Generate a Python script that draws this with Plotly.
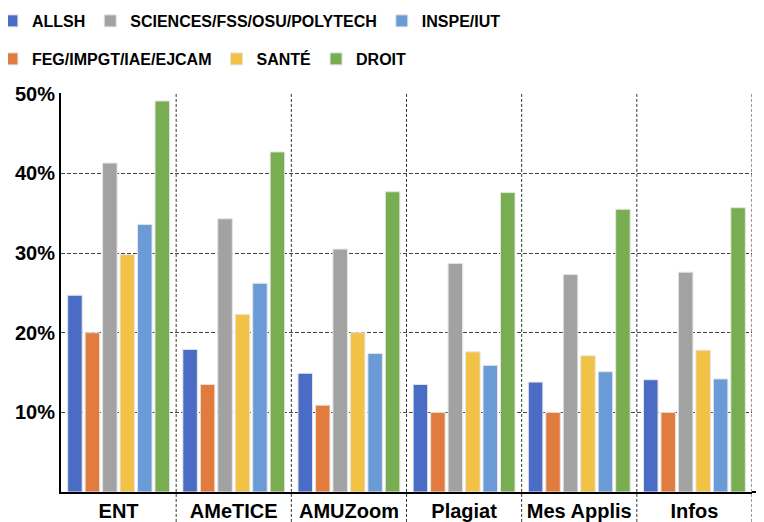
import plotly.graph_objects as go

categories = ["ENT", "AMeTICE", "AMUZoom", "Plagiat", "Mes Applis", "Infos"]

allsh = [24.7, 17.9, 14.9, 13.5, 13.8, 14.1]
feg = [20.0, 13.5, 10.9, 10.0, 10.0, 10.0]
sciences = [41.3, 34.3, 30.5, 28.7, 27.3, 27.6]
sante = [29.8, 22.3, 20.0, 17.6, 17.1, 17.8]
inspe = [33.6, 26.2, 17.4, 15.9, 15.1, 14.2]
droit = [49.1, 42.7, 37.7, 37.6, 35.5, 35.7]

y_tick_vals = [10, 20, 30, 40, 50]
y_tick_text = ["10%", "20%", "30%", "40%", "50%"]

series = [
    ("ALLSH", allsh, "#4a6cc4", "legend"),
    ("FEG/IMPGT/IAE/EJCAM", feg, "#e27c3e", "legend2"),
    ("SCIENCES/FSS/OSU/POLYTECH", sciences, "#a2a2a2", "legend"),
    ("SANTÉ", sante, "#f2c246", "legend2"),
    ("INSPE/IUT", inspe, "#6b9bd6", "legend"),
    ("DROIT", droit, "#79ad52", "legend2"),
]

fig = go.Figure()
for name, vals, color, leg in series:
    fig.add_trace(go.Bar(
        name=name, x=categories, y=vals,
        marker=dict(color=color, line=dict(color="#e4e4e4", width=1)),
        legend=leg,
    ))

legend_font = dict(family="Liberation Sans Narrow, Arial Narrow, Liberation Sans, Arial",
                   size=16, color="black", weight="bold")

# vertical dashed separators between categories
shapes = []
for i in range(len(categories)):
    shapes.append(dict(type="line", xref="x", yref="paper",
                       x0=i + 0.5, x1=i + 0.5, y0=-0.075, y1=1,
                       line=dict(color="#333333", width=1, dash="3px,2px")))
shapes.append(dict(type="line", xref="paper", yref="paper", x0=1, x1=1.03, y0=0, y1=0,
                   line=dict(color="black", width=2)))

fig.update_layout(
    width=756, height=514,
    margin=dict(l=53, r=12, t=85, b=30, autoexpand=False),
    paper_bgcolor="white", plot_bgcolor="white",
    barmode="group", bargap=0.09, bargroupgap=0.17,
    font=dict(family="Liberation Sans, Arial", color="black"),
    shapes=shapes,
    legend=dict(orientation="h", xref="paper", yref="paper",
                x=-0.1, y=1.1805, xanchor="left", yanchor="middle",
                font=legend_font, bgcolor="rgba(0,0,0,0)", tracegroupgap=0),
    legend2=dict(orientation="h", xref="paper", yref="paper",
                 x=-0.1, y=1.0852, xanchor="left", yanchor="middle",
                 font=legend_font, bgcolor="rgba(0,0,0,0)", tracegroupgap=0),
    xaxis=dict(showgrid=False, showline=True, linecolor="black", linewidth=2,
               tickfont=dict(size=20, weight="bold", color="black"),
               range=[-0.5, 5.5], automargin=False),
    yaxis=dict(range=[0, 50.1], tickvals=y_tick_vals, ticktext=y_tick_text,
               showgrid=True, gridcolor="#444444", gridwidth=1.3, griddash="4px,2px",
               showline=True, linecolor="black", linewidth=2, zeroline=False,
               tickfont=dict(size=20, weight="bold", color="black"),
               automargin=False),
)

fig.write_html("out.html")
